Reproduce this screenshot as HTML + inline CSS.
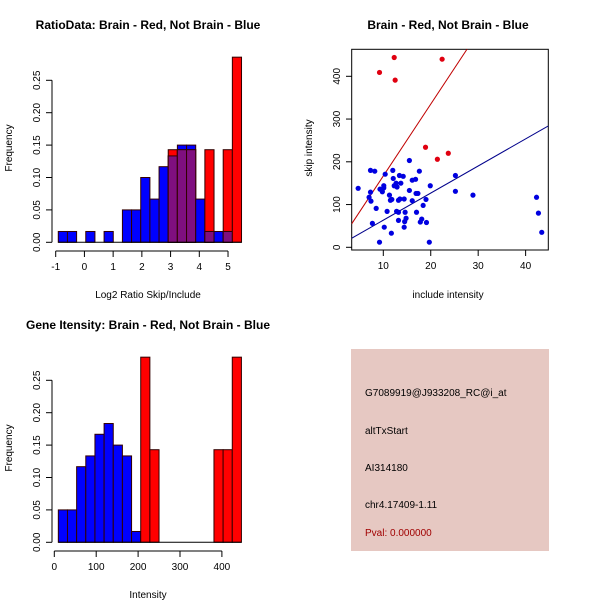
<!DOCTYPE html>
<html><head><meta charset="utf-8"><style>body{margin:0;background:#fff}svg{display:block;font-family:"Liberation Sans",sans-serif}</style></head>
<body>
<svg id="s" width="600" height="600" xmlns="http://www.w3.org/2000/svg">
<text x="148" y="29" font-size="12" font-weight="bold" text-anchor="middle">RatioData: Brain - Red, Not Brain - Blue</text>
<text x="448" y="29" font-size="12" font-weight="bold" text-anchor="middle">Brain - Red, Not Brain - Blue</text>
<text x="148" y="329" font-size="12" font-weight="bold" text-anchor="middle">Gene Itensity: Brain - Red, Not Brain - Blue</text>
<text x="148" y="298" font-size="10" text-anchor="middle">Log2 Ratio Skip/Include</text>
<text x="448" y="298" font-size="10" text-anchor="middle">include intensity</text>
<text x="148" y="598" font-size="10" text-anchor="middle">Intensity</text>
<text transform="translate(12,148) rotate(-90)" font-size="10" text-anchor="middle">Frequency</text>
<text transform="translate(312,148) rotate(-90)" font-size="10" text-anchor="middle">skip intensity</text>
<text transform="translate(12,448) rotate(-90)" font-size="10" text-anchor="middle">Frequency</text>
<rect x="351" y="349" width="198" height="202" fill="#e6c8c2"/>
<g font-size="10">
<text x="365" y="396">G7089919@J933208_RC@i_at</text>
<text x="365" y="434">altTxStart</text>
<text x="365" y="471">AI314180</text>
<text x="365" y="508">chr4.17409-1.11</text>
<text x="365" y="536" fill="#a00000">Pval: 0.000000</text>
</g>
</svg>
<script>
const ratioBlue=[0.0167,0.0167,0,0.0167,0,0.0167,0,0.05,0.05,0.1,0.0667,0.1167,0.1333,0.15,0.15,0.0667,0.0167,0.0167,0.0167,0];
const ratioRed=[0,0,0,0,0,0,0,0,0,0,0,0,0.1429,0.1429,0.1429,0,0.1429,0,0.1429,0.2857];
const ratioBinStart=-0.91, ratioBinWidth=0.319;
const ratioXTicks=[-1,0,1,2,3,4,5];
const freqTicks=["0.00","0.05","0.10","0.15","0.20","0.25"];
const intBlue=[0.05,0.05,0.1167,0.1333,0.1667,0.1833,0.15,0.1333,0.0167,0,0,0,0,0,0,0,0,0,0,0];
const intRed=[0,0,0,0,0,0,0,0,0,0.2857,0.1429,0,0,0,0,0,0,0.1429,0.1429,0.2857];
const intBinStart=9.6, intBinWidth=21.85;
const intXTicks=[0,100,200,300,400];
const redInc=[9.2,12.3,12.5,22.4,18.9,21.4,23.7];
const redSkip=[409,444,391,440,234,206,220];
const blueInc=[4.7,7.3,8.2,7.3,7.0,7.4,7.7,8.5,9.2,9.3,9.8,10.1,10.1,10.4,10.2,10.8,11.3,11.5,11.8,11.7,12.0,12.1,12.3,12.7,12.9,12.8,13.2,13.2,13.2,13.5,13.4,13.7,14.2,14.4,14.4,14.5,14.6,14.8,15.5,15.5,16.1,16.1,16.8,16.9,17.3,17.0,17.6,17.8,18.1,18.4,19.0,19.1,19.7,19.9,25.2,25.2,28.9,42.3,42.7,43.4];
const blueSkip=[138,180,178,129,117,108,56,91,12,136,130,139,144,171,47,84,122,110,112,33,180,161,144,150,141,84,82,63,110,113,168,150,166,113,47,60,82,68,203,133,109,157,159,126,126,82,178,59,66,98,112,58,12,144,168,131,122,117,80,35];
const redFit=[-1.1,16.8], blueFit=[0,6.34];
const scXTicks=[10,20,30,40], scYTicks=[0,100,200,300,400];

const svg=document.getElementById('s');
const NS='http://www.w3.org/2000/svg';
function mk(tag,at,parent){const e=document.createElementNS(NS,tag);for(const k in at)e.setAttribute(k,at[k]);(parent||svg).appendChild(e);return e;}

function hist(oy,blue,red,start,w,xs,xticks,tag){
  const ys=v=>oy+242.3-v*648;
  const g=mk('g',{});
  
  
  blue.forEach((v,i)=>{
    const x0=xs(start+i*w),x1=xs(start+(i+1)*w);
    const b=blue[i],r=red[i];
    const draw=(h,fill,name)=>{const e=mk('rect',{x:x0,y:ys(h),width:x1-x0,height:ys(0)-ys(h),fill:fill,stroke:'#300',"stroke-width":1},g);
      
      };
    if(b>0)draw(b,'#0000ff',tag+'-blue-bar');
    if(r>0)draw(r,'#ff0000',tag+'-red-bar');
    if(b>0&&r>0)draw(Math.min(b,r),'#7f0f7f',tag+'-overlap-bar');
  });
  const l=mk('line',{x1:xs(start),x2:xs(start+blue.length*w),y1:ys(0),y2:ys(0),stroke:'#000'},g);
  
  
  // y axis
  const ya=mk('g',{stroke:'#000'});
  
  
  mk('line',{x1:52,x2:52,y1:ys(0),y2:ys(0.25)},ya);
  freqTicks.forEach(t=>{const y=ys(+t);mk('line',{x1:46,x2:52,y1:y,y2:y},ya);
    const tx=mk('text',{transform:`translate(40,${y}) rotate(-90)`,"font-size":10,"text-anchor":"middle",stroke:'none'},ya);tx.textContent=t;
    
    });
  const xa=mk('g',{stroke:'#000'});
  
  
  const ay=oy+251;
  mk('line',{x1:xs(xticks[0]),x2:xs(xticks[xticks.length-1]),y1:ay,y2:ay},xa);
  xticks.forEach(t=>{const x=xs(t);mk('line',{x1:x,x2:x,y1:ay,y2:ay+6},xa);
    const tx=mk('text',{x:x,y:ay+19,"font-size":10,"text-anchor":"middle",stroke:'none'},xa);tx.textContent=t;
    
    });
}
hist(0,ratioBlue,ratioRed,ratioBinStart,ratioBinWidth,v=>55.7+(v+1)*28.72,ratioXTicks,'ratio');
hist(300,intBlue,intRed,intBinStart,intBinWidth,v=>54.3+v*0.419,intXTicks,'intensity');

// scatter
const sx=v=>383.3+(v-10)*4.744, sy=v=>247.3-v*0.4275;
const box=mk('rect',{x:351.7,y:49.3,width:196.6,height:200.7,fill:'none',stroke:'#000'});


const clip=mk('clipPath',{id:'c'});mk('rect',{x:351.7,y:49.3,width:196.6,height:200.7},clip);
function fit(f,col,name){const x0=3.32,x1=44.8;
  const l=mk('line',{x1:sx(x0),y1:sy(f[0]+f[1]*x0),x2:sx(x1),y2:sy(f[0]+f[1]*x1),stroke:col,"clip-path":"url(#c)"});
  
  }
fit(redFit,'#c00000','red-fit-line');fit(blueFit,'#00008b','blue-fit-line');
blueInc.forEach((v,i)=>{const c=mk('circle',{cx:sx(v),cy:sy(blueSkip[i]),r:2.6,fill:'#0000e0'});
  
  });
redInc.forEach((v,i)=>{const c=mk('circle',{cx:sx(v),cy:sy(redSkip[i]),r:2.6,fill:'#e00010'});
  
  });
scXTicks.forEach(t=>{const x=sx(t);mk('line',{x1:x,x2:x,y1:250,y2:256,stroke:'#000'});
  const tx=mk('text',{x:x,y:269,"font-size":10,"text-anchor":"middle"});tx.textContent=t;
  
  });
scYTicks.forEach(t=>{const y=sy(t);mk('line',{x1:346,x2:351.7,y1:y,y2:y,stroke:'#000'});
  const tx=mk('text',{transform:`translate(340,${y}) rotate(-90)`,"font-size":10,"text-anchor":"middle"});tx.textContent=t;
  
  });
</script>
</body></html>
